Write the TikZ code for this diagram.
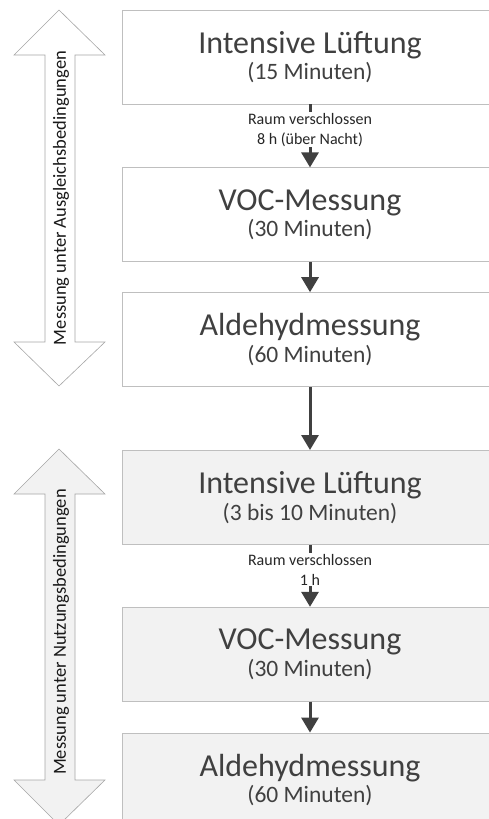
\documentclass[tikz,border=0pt]{standalone}
\usepackage{fontspec}
\setmainfont{Carlito}
\usepackage{tikz}
\usetikzlibrary{arrows.meta,positioning,calc}
\definecolor{boxline}{HTML}{BFBFBF}
\definecolor{boxtext}{HTML}{404040}
\definecolor{usefill}{HTML}{F2F2F2}
\definecolor{bigline}{HTML}{A6A6A6}
\newcommand{\stepnode}[2]{{\fontsize{32}{34}\selectfont #1}\\[3pt]{\fontsize{23.5}{26}\selectfont #2}}
\tikzset{
    stepbox/.style={draw=boxline, line width=0.8pt, fill=white, minimum width=376pt, minimum height=94pt, inner sep=0pt, align=center, text=boxtext},
    usebox/.style={stepbox, fill=usefill},
    flow/.style={-{Triangle[length=15pt, width=17pt]}, line width=3pt, boxtext},
    waitlabel/.style={fill=white, inner sep=1pt, align=center, font=\fontsize{16}{20}\selectfont, text=black!85},
    bigarrow/.style={draw=bigline, line width=0.6pt},
    sidelabel/.style={rotate=90, font=\fontsize{18.5}{20}\selectfont, text=black!90, inner sep=0pt}
}

\begin{document}
\begin{tikzpicture}[x=1pt, y=-1pt]
\useasboundingbox (0,0) rectangle (489,819);
% Ausgleichsbedingungen
\node[stepbox] (luft1) at (310,57) {\stepnode{Intensive Lüftung}{(15 Minuten)}};
\node[stepbox, below=63pt of luft1] (voc1) {\stepnode{VOC-Messung}{(30 Minuten)}};
\node[stepbox, below=30pt of voc1] (alde1) {\stepnode{Aldehydmessung}{(60 Minuten)}};
% Nutzungsbedingungen
\node[usebox, below=63pt of alde1] (luft2) {\stepnode{Intensive Lüftung}{(3 bis 10 Minuten)}};
\node[usebox, below=62pt of luft2] (voc2) {\stepnode{VOC-Messung}{(30 Minuten)}};
\node[usebox, below=31pt of voc2] (alde2) {\stepnode{Aldehydmessung}{(60 Minuten)}};

\draw[flow] (luft1) -- (voc1) node[waitlabel, pos=0.4] {Raum verschlossen\\8 h (über Nacht)};
\draw[flow] (voc1) -- (alde1);
\draw[flow] (alde1) -- (luft2);
\draw[flow] (luft2) -- (voc2) node[waitlabel, pos=0.4] {Raum verschlossen\\1 h};
\draw[flow] (voc2) -- (alde2);

% seitliche Pfeile
\draw[bigarrow, fill=white] (59,10) -- (105,55) -- (75,55) -- (75,342) -- (105,342) -- (59,386)
    -- (14,342) -- (45,342) -- (45,55) -- (14,55) -- cycle;
\node[sidelabel] (ausgleich) at (61,198) {Messung unter Ausgleichsbedingungen};
\draw[bigarrow, fill=usefill] (59,449) -- (105,494) -- (75,494) -- (75,780) -- (105,780) -- (59,825)
    -- (14,780) -- (45,780) -- (45,494) -- (14,494) -- cycle;
\node[sidelabel] (nutzung) at (61,632) {Messung unter Nutzungsbedingungen};
\end{tikzpicture}
\end{document}
